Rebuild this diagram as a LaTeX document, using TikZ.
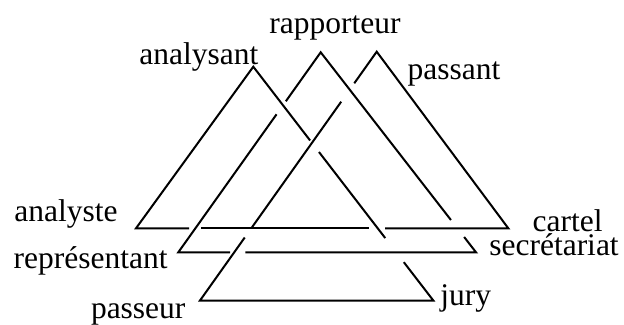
\documentclass[tikz,border=0pt]{standalone}
\usepackage{fontspec}
\setmainfont{Liberation Serif}
\usepackage{tikz}
\usetikzlibrary{calc}

\begin{document}
\begin{tikzpicture}[x=0.5pt, y=-0.5pt, line width=1pt, miter limit=20,
  lab/.style={anchor=base west, inner sep=0pt, font=\fontsize{15.75}{18}\selectfont}]
\useasboundingbox (0,0) rectangle (624,325);
\coordinate (ana) at (253.3,66.7);
\coordinate (rap) at (320.7,52.3);
\coordinate (pas) at (376.7,51.7);
\coordinate (aly) at (136,228.3);
\coordinate (rep) at (178.3,252.3);
\coordinate (pss) at (200,300.5);
\coordinate (car) at (508.3,228.3);
\coordinate (sec) at (476,252.3);
\coordinate (jur) at (433.3,300.5);

\draw ($(ana)!0.3155!(jur)$) -- (ana) -- (aly) -- ($(aly)!0.1424!(car)$);
\draw ($(aly)!0.1759!(car)$) -- ($(aly)!0.6245!(car)$);
\draw ($(aly)!0.6688!(car)$) -- (car) -- (pas) -- ($(pas)!0.127!(pss)$);
\draw ($(pas)!0.201!(pss)$) -- ($(pas)!0.7098!(pss)$);
\draw ($(pas)!0.7468!(pss)$) -- (pss) -- (jur) -- ($(ana)!0.836!(jur)$);
\draw ($(ana)!0.3648!(jur)$) -- ($(ana)!0.733!(jur)$);

\draw ($(rap)!0.8385!(sec)$) -- (rap) -- ($(rap)!0.245!(rep)$);
\draw ($(rap)!0.31!(rep)$) -- (rep) -- ($(rep)!0.1737!(sec)$);
\draw ($(rep)!0.2257!(sec)$) -- (sec) -- ($(rap)!0.9235!(sec)$);

\node[lab] (l-ana) at (138.3,64.3) {analysant};
\node[lab] (l-rap) at (268.3,33.3) {rapporteur};
\node[lab] (l-pas) at (406.7,79.3) {passant};
\node[lab] (l-aly) at (13.3,221.7) {analyste};
\node[lab] (l-rep) at (12.7,268.3) {représentant};
\node[lab] (l-pss) at (90,318.3) {passeur};
\node[lab] (l-car) at (531.7,231.7) {cartel};
\node[lab] (l-sec) at (488.3,255) {secrétariat};
\node[lab] (l-jur) at (439.3,305) {jury};
\end{tikzpicture}
\end{document}
